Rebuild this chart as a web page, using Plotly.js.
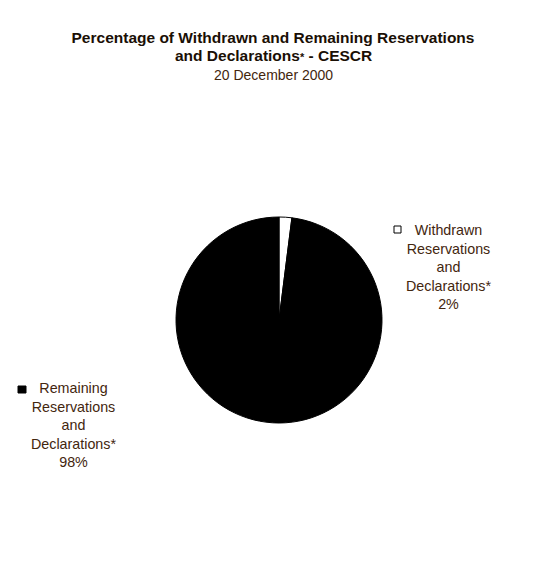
<!DOCTYPE html>
<html>
<head>
<meta charset="utf-8">
<script src="https://cdn.plot.ly/plotly-3.0.1.min.js"></script>
<style>
  html, body { margin: 0; padding: 0; background: #fff; }
  #chart { width: 558px; height: 570px; }
</style>
</head>
<body>
<div id="chart"></div>
<script>
// Pie of withdrawn vs remaining reservations, CESCR, 20 Dec 2000.
const categories = ["Withdrawn", "Remaining"];
const labelLines = [
  ["Withdrawn", "Reservations", "and", "Declarations*"],
  ["Remaining", "Reservations", "and", "Declarations*"],
];
const values = [2, 98];
const sliceColors = ["#ffffff", "#000000"];

const W = 558, H = 570;
const TEXT = "#43260e";
const TITLE = "#1a0f05";
const FONT = "'Liberation Sans', Arial, sans-serif";
// pixel -> paper (margins are zero so paper == page)
const px = (x) => x / W;
const py = (y) => 1 - y / H;

const total = values.reduce((a, b) => a + b, 0);
const pct = values.map((v) => Math.round((v / total) * 100) + "%");

const trace = {
  type: "pie",
  labels: categories,
  values,
  sort: false,
  direction: "clockwise",
  rotation: 0,
  textinfo: "none",
  hoverinfo: "label+percent",
  marker: { colors: sliceColors, line: { color: "#000", width: 1 } },
  domain: { x: [px(176), px(382)], y: [py(423), py(217)] },
};

// slice labels sit beside the pie, square key to the left of the first line
const labelPos = [
  { x: 448.5, y: 266.5, key: [394, 226, 401, 233] },
  { x: 73.5, y: 425, key: [18, 386, 26, 393] },
];

const annotations = labelLines.map((lines, i) => ({
  text: [...lines, pct[i]].join("<br>"),
  x: px(labelPos[i].x), y: py(labelPos[i].y),
  xref: "paper", yref: "paper", xanchor: "center", yanchor: "middle",
  align: "center", showarrow: false,
  font: { family: FONT, size: 14.3, color: TEXT },
}));
// second title line kept separate so its spacing matches the original
annotations.push({
  text: "<b>and Declarations<span style='font-size:11px'>*</span> - CESCR</b>",
  x: px(273), y: py(56), xref: "paper", yref: "paper",
  xanchor: "center", yanchor: "middle", showarrow: false,
  font: { family: FONT, size: 15.5, color: TITLE },
});
annotations.push({
  text: "20 December 2000",
  x: px(273), y: py(75), xref: "paper", yref: "paper",
  xanchor: "center", yanchor: "middle", showarrow: false,
  font: { family: FONT, size: 14, color: TEXT },
});

const shapes = labelPos.map((p, i) => ({
  type: "rect", xref: "paper", yref: "paper",
  x0: px(p.key[0]), x1: px(p.key[2]), y0: py(p.key[3]), y1: py(p.key[1]),
  fillcolor: sliceColors[i], line: { color: "#000", width: 1 },
}));

const layout = {
  width: W, height: H,
  margin: { t: 0, r: 0, b: 0, l: 0 },
  paper_bgcolor: "#fff",
  showlegend: false,
  title: {
    text: "<b>Percentage of Withdrawn and Remaining Reservations</b>",
    x: px(273), xanchor: "center", xref: "paper",
    y: py(38), yanchor: "middle", yref: "container",
    font: { family: FONT, size: 15.5, color: TITLE },
  },
  annotations,
  shapes,
};

Plotly.newPlot("chart", [trace], layout, { displayModeBar: false, staticPlot: true });
</script>
</body>
</html>
